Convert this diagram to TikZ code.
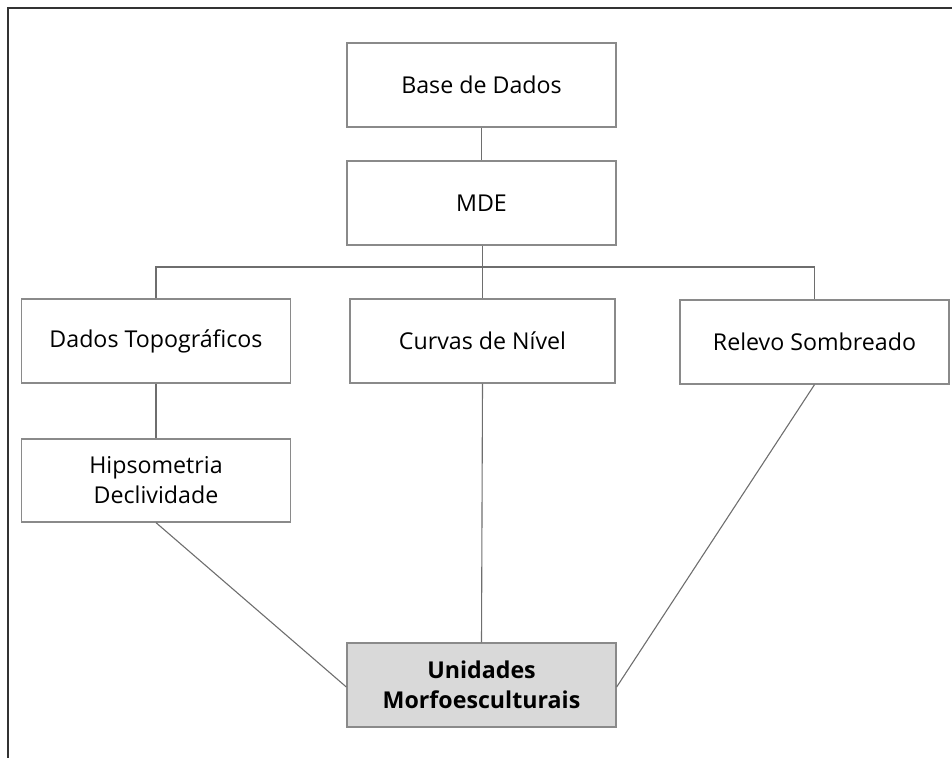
\documentclass[tikz,border=0pt]{standalone}
\usepackage{fontspec}
\setmainfont{Open Sans}
\usetikzlibrary{positioning}

\definecolor{boxline}{HTML}{8A8A8A}
\definecolor{linkline}{HTML}{6E6E6E}
\definecolor{frameline}{HTML}{333333}
\definecolor{resultfill}{HTML}{D9D9D9}

\tikzset{
  etapa/.style={draw=boxline, line width=1.3pt, fill=white,
    minimum width=269pt, minimum height=84pt, inner sep=0pt,
    align=center, font=\fontsize{23.2}{30}\selectfont},
  resultado/.style={etapa, fill=resultfill, font=\fontsize{23.2}{30}\selectfont\bfseries},
  ligacao/.style={draw=linkline, line width=1.1pt}
}

\begin{document}
\begin{tikzpicture}[x=1pt,y=-1pt]
		\useasboundingbox (0,0) rectangle (952,758);
		% moldura (so topo e esquerda)
		\draw[frameline, line width=2pt] (952,8) -- (8,8) -- (8,758);
		% caixas
		\node[etapa] (base) at (481.5,85) {Base de Dados};
		\node[etapa] (mde) at (481.5,203) {MDE};
		\node[etapa] (topo) at (156,341) {Dados Topográficos};
		\node[etapa, minimum width=265pt] (curvas) at (482.5,341) {Curvas de Nível};
		\node[etapa] (relevo) at (814.5,342) {Relevo Sombreado};
		\node[etapa, minimum height=83pt] (hipso) at (156,480.5) {Hipsometria\\Declividade};
		\node[resultado] (unid) at (481.5,685) {Unidades\\Morfoesculturais};
		\coordinate (bus) at (482,267);
		% ligacoes
		\draw[ligacao] (base.south) -- (mde.north);
		\draw[ligacao] (mde.south -| curvas.north) -- (curvas.north);
		\draw[ligacao] (topo.north) |- (bus) -| (relevo.north);
		\draw[ligacao] (topo.south) -- (hipso.north);
		\draw[ligacao] (hipso.south) -- ([yshift=-2pt]unid.west);
		\draw[ligacao] (curvas.south) -- (unid.north);
		\draw[ligacao] (relevo.south) -- ([yshift=-2pt]unid.east);
	\end{tikzpicture}
\end{document}
